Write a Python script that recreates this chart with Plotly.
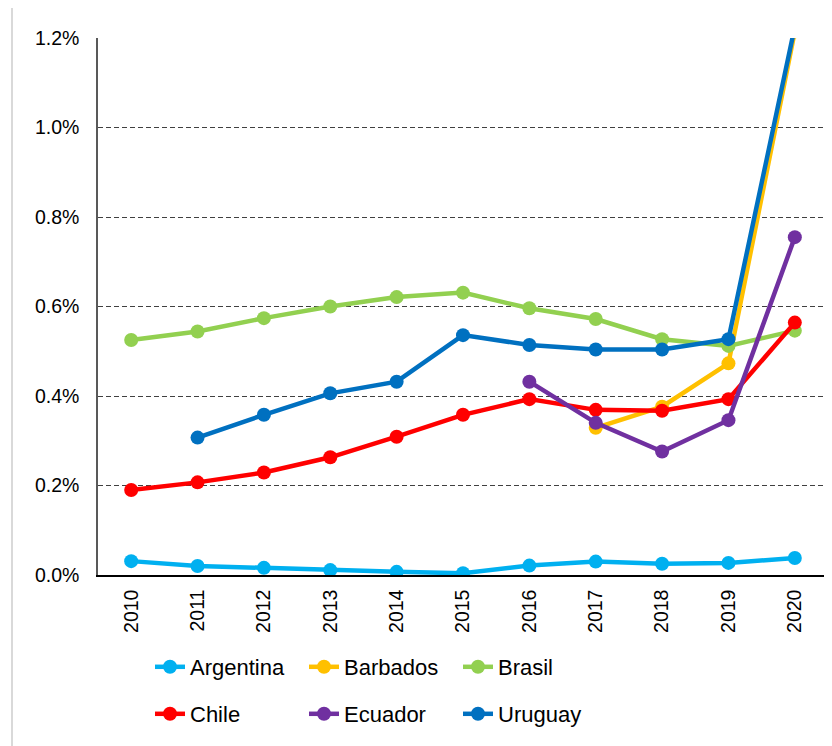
import plotly.graph_objects as go

years = [str(y) for y in range(2010, 2021)]
argentina = [0.031, 0.020, 0.016, 0.011, 0.007, 0.004, 0.021, 0.030, 0.025, 0.027, 0.038]
barbados = [None, None, None, None, None, None, None, 0.329, 0.376, 0.473, 1.215]
brasil = [0.525, 0.544, 0.574, 0.600, 0.621, 0.631, 0.596, 0.572, 0.527, 0.512, 0.546]
chile = [0.190, 0.207, 0.229, 0.263, 0.309, 0.358, 0.393, 0.369, 0.367, 0.393, 0.564]
ecuador = [None, None, None, None, None, None, 0.432, 0.340, 0.276, 0.346, 0.755]
uruguay = [None, 0.307, 0.358, 0.406, 0.432, 0.536, 0.514, 0.504, 0.504, 0.527, 1.225]

series = [
    ("Argentina", argentina, "#00B0F0", "legend"),
    ("Barbados", barbados, "#FFC000", "legend"),
    ("Brasil", brasil, "#92D050", "legend"),
    ("Chile", chile, "#FF0000", "legend2"),
    ("Ecuador", ecuador, "#7030A0", "legend2"),
    ("Uruguay", uruguay, "#0070C0", "legend2"),
]

FONT = "Liberation Sans, Arial, sans-serif"

fig = go.Figure()
for name, vals, color, lg in series:
    fig.add_trace(go.Scatter(
        x=years, y=vals, name=name, mode="lines+markers",
        line=dict(color=color, width=4.5),
        marker=dict(color=color, size=14),
        connectgaps=False, legend=lg,
    ))

# page is offset by the 8px body margin; work in figure pixels
W, H = 832, 746
L, R, T, B = 90, 12, 30, 179
pw, ph = W - L - R, H - T - B

def px2x(px):
    return (px - L) / pw

def py2y(py):
    return (H - B - py) / ph

legend_common = dict(
    orientation="h", entrywidth=109, entrywidthmode="pixels",
    font=dict(family=FONT, size=22, color="#000000"),
    xanchor="left", yanchor="middle", bgcolor="rgba(0,0,0,0)",
    itemclick=False, itemdoubleclick=False,
)

fig.update_layout(
    width=W, height=H,
    margin=dict(l=L, r=R, t=T, b=B),
    paper_bgcolor="white", plot_bgcolor="white",
    font=dict(family=FONT, size=19.5, color="#000000"),
    showlegend=True,
    legend=dict(x=px2x(142), y=py2y(659), **legend_common),
    legend2=dict(x=px2x(142), y=py2y(706), **legend_common),
    xaxis=dict(
        type="category", range=[-0.5, 10.5], tickangle=-90, showgrid=False,
        showline=True, linecolor="#000000", linewidth=1.5,
        ticks="", tickfont=dict(family=FONT, size=19.5, color="#000000"),
        ticklabelstandoff=5, fixedrange=True,
    ),
    yaxis=dict(
        range=[0, 1.2], dtick=0.2, tickformat=".1f", ticksuffix="%",
        showgrid=True, gridcolor="#404040", griddash="5px,3px", gridwidth=1,
        showline=True, linecolor="#595959", linewidth=1.5,
        zeroline=False, ticks="",
        tickfont=dict(family=FONT, size=19.5, color="#000000"),
        ticklabelstandoff=13, fixedrange=True,
    ),
    shapes=[dict(
        type="rect", xref="paper", yref="paper",
        x0=px2x(4), x1=px2x(900), y0=py2y(900), y1=py2y(-5),
        line=dict(color="#d9d9d9", width=2), fillcolor="rgba(0,0,0,0)",
        layer="below",
    )],
)

fig.write_html("out.html")
